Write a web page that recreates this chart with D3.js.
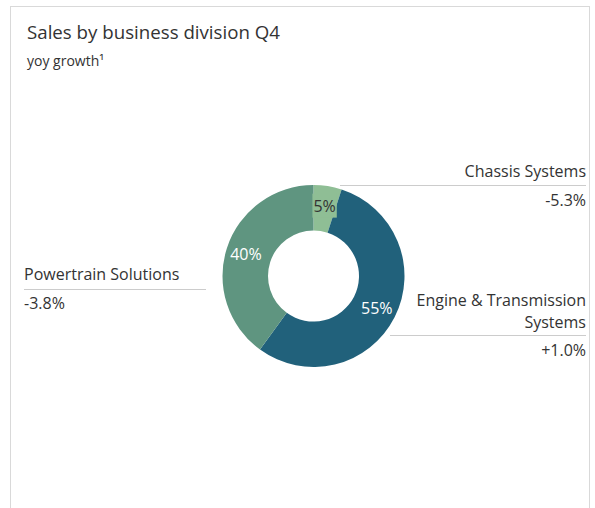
<!DOCTYPE html>
<html>
<head>
<meta charset="utf-8">
<script src="https://cdn.jsdelivr.net/npm/d3@7"></script>
<style>
  html, body { margin: 0; padding: 0; background: #fff; }
  svg { display: block; font-family: "Open Sans", "Noto Sans", sans-serif; }
</style>
</head>
<body>
<svg id="chart" width="595" height="508"></svg>
<script>
// Divisions, their share of Q4 sales and year-over-year growth
const divisions = ["Chassis Systems", "Engine & Transmission Systems", "Powertrain Solutions"];
const shares = [5, 55, 40];
const growth = ["-5.3%", "+1.0%", "-3.8%"];
const colors = ["#8fbe95", "#21617b", "#5f9580"];
const sliceTextColors = ["#333333", "#ffffff", "#ffffff"];

const svg = d3.select("#chart");

// card frame
svg.append("rect")
  .attr("x", 10.5).attr("y", 6.5)
  .attr("width", 579).attr("height", 520)
  .attr("fill", "#fff")
  .attr("stroke", "#d9d9d9").attr("stroke-width", 1);

svg.append("text")
  .attr("x", 27).attr("y", 39)
  .attr("font-size", 18.7).attr("fill", "#333")
  .text("Sales by business division Q4");

svg.append("text")
  .attr("x", 27).attr("y", 65.5)
  .attr("font-size", 14).attr("fill", "#333")
  .text("yoy growth\u00B9");

const cx = 313.5, cy = 276, rOuter = 91, rInner = 45.5;

const pie = d3.pie().sort(null).value(d => d)(shares);
const arc = d3.arc().innerRadius(rInner).outerRadius(rOuter);
const labelArc = d3.arc().innerRadius(71).outerRadius(71);

const g = svg.append("g").attr("transform", `translate(${cx},${cy})`);

g.selectAll("path.slice")
  .data(pie)
  .join("path")
  .attr("class", "slice")
  .attr("d", arc)
  .attr("fill", (d, i) => colors[i]);

// percentage labels; a small slice gets a tag in its own colour behind the text
pie.forEach((d, i) => {
  const [lx, ly] = labelArc.centroid(d);
  const grp = g.append("g").attr("transform", `translate(${lx},${ly})`);
  const t = grp.append("text")
    .attr("text-anchor", "middle").attr("dy", "0.36em")
    .attr("font-size", 16).attr("fill", sliceTextColors[i])
    .text(shares[i] + "%");
  if (shares[i] < 10) {
    const bb = t.node().getBBox();
    grp.insert("rect", "text")
      .attr("x", bb.x - 1).attr("y", bb.y - 1)
      .attr("width", bb.width + 2).attr("height", bb.height + 2)
      .attr("fill", colors[i]);
  }
});

// callout labels with rules
const callouts = [
  { i: 0, anchor: "end", x: 586, lines: ["Chassis Systems"], lineY: 185, x1: 340, x2: 586, firstY: 177, growthY: 206 },
  { i: 1, anchor: "end", x: 586, lines: ["Engine & Transmission", "Systems"], lineY: 335, x1: 390, x2: 586, firstY: 306, growthY: 356 },
  { i: 2, anchor: "start", x: 24, lines: ["Powertrain Solutions"], lineY: 289, x1: 24, x2: 206, firstY: 280, growthY: 309 }
];

callouts.forEach(c => {
  const name = svg.append("text")
    .attr("x", c.x).attr("y", c.firstY)
    .attr("text-anchor", c.anchor)
    .attr("font-size", 16).attr("fill", "#333");
  c.lines.forEach((ln, k) => {
    name.append("tspan")
      .attr("x", c.x)
      .attr("dy", k === 0 ? 0 : 22)
      .text(ln);
  });
  svg.append("line")
    .attr("x1", c.x1).attr("x2", c.x2)
    .attr("y1", c.lineY + 0.5).attr("y2", c.lineY + 0.5)
    .attr("stroke", "#cccccc").attr("stroke-width", 1);
  svg.append("text")
    .attr("x", c.x).attr("y", c.growthY)
    .attr("text-anchor", c.anchor)
    .attr("font-size", 16).attr("fill", "#333")
    .text(growth[c.i]);
});
</script>
</body>
</html>
